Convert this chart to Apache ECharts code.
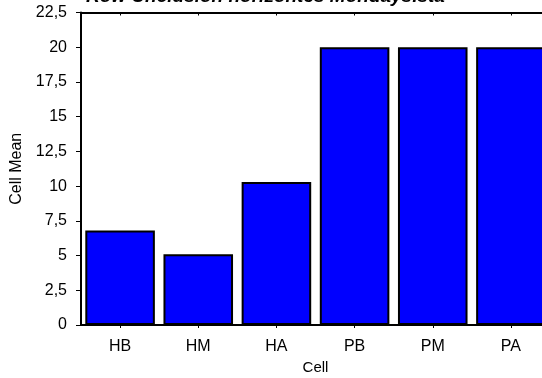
<!DOCTYPE html>
<html>
<head>
<meta charset="utf-8">
<script src="https://cdn.jsdelivr.net/npm/echarts@6/dist/echarts.min.js"></script>
<style>
  html, body { margin: 0; padding: 0; background: #fff; }
  #chart { width: 542px; height: 378px; }
</style>
</head>
<body>
<div id="chart"></div>
<script>
// categories and cell means
const cells = ['HB', 'HM', 'HA', 'PB', 'PM', 'PA'];
const cellMeans = [6.8, 5.1, 10.3, 20, 20, 20];
const yTicks = [0, 2.5, 5, 7.5, 10, 12.5, 15, 17.5, 20, 22.5];

const chart = echarts.init(document.getElementById('chart'));
const font = 'Liberation Sans, Arial, sans-serif';

const option = {
    animation: false,
    title: {
        text: 'Row Unclusion horizontes Mondays.sta',
        left: 81,
        top: -18,
        textStyle: { fontFamily: font, fontSize: 19, fontWeight: 'bold', fontStyle: 'italic', color: '#000' }
    },
    grid: {
        left: 81,
        right: -8,
        top: 12.5,
        bottom: 53,
        containLabel: false,
        outerBoundsMode: 'none'
    },
    xAxis: [
        {
            type: 'category',
            data: cells,
            position: 'bottom',
            name: 'Cell',
            nameLocation: 'middle',
            nameGap: 35,
            nameTextStyle: { fontFamily: font, fontSize: 15, color: '#000' },
            axisLine: { show: true, lineStyle: { color: '#000', width: 2 } },
            axisTick: { show: true, alignWithLabel: true, length: 3, lineStyle: { color: '#000' } },
            axisLabel: { fontFamily: font, fontSize: 16, color: '#000', margin: 14 }
        },
        {
            type: 'category',
            data: cells,
            position: 'top',
            axisLine: { show: true, lineStyle: { color: '#000', width: 2 } },
            axisTick: { show: true, inside: true, alignWithLabel: true, length: 3, lineStyle: { color: '#000' } },
            axisLabel: { show: false }
        }
    ],
    yAxis: {
        type: 'value',
        min: yTicks[0],
        max: yTicks[yTicks.length - 1],
        interval: 2.5,
        name: 'Cell Mean',
        nameLocation: 'middle',
        nameGap: 56,
        nameTextStyle: { fontFamily: font, fontSize: 16, color: '#000' },
        axisLine: { show: true, lineStyle: { color: '#000', width: 2 } },
        axisTick: { show: true, length: 5, lineStyle: { color: '#000' } },
        axisLabel: {
            fontFamily: font, fontSize: 16, color: '#000', margin: 14,
            formatter: v => String(v).replace('.', ',')
        },
        splitLine: { show: false }
    },
    series: [{
        type: 'bar',
        data: cellMeans,
        barCategoryGap: '11%',
        itemStyle: { color: '#0000ff', borderColor: '#000', borderWidth: 2 }
    }]
};
chart.setOption(option);
</script>
</body>
</html>
